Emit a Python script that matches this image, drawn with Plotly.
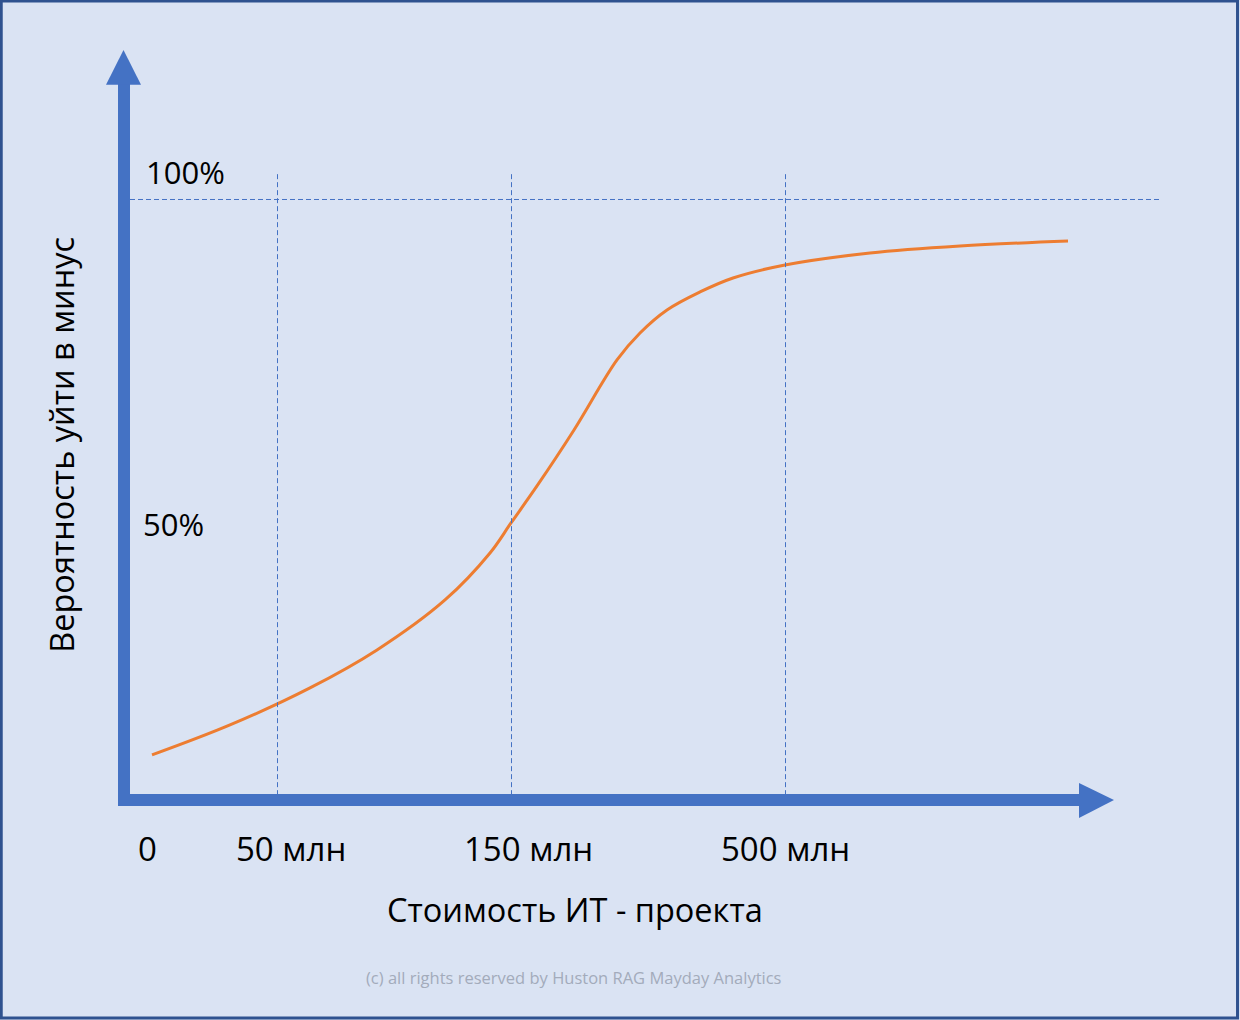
import plotly.graph_objects as go

# ---- data (x: position along the cost axis, y: probability in %) ----
curve_x = [2.8, 10.6, 18.6, 25.3, 32.1, 36.6, 38.7, 41.3, 45.0, 49.3, 51.6,
           54.3, 57.6, 60.9, 66.1, 74.6, 83.6, 94.4]
curve_y = [7.49, 12.48, 18.64, 24.96, 33.28, 41.10, 46.09, 52.25, 61.56, 73.21, 77.70,
           81.53, 84.53, 86.86, 89.02, 91.01, 92.18, 93.01]

grid_x = [15.3, 38.7, 66.1]          # dashed verticals (50, 150, 500 млн)
grid_y = [100]                        # dashed horizontal (100%)

x_tick_labels = ["0", "50 млн", "150 млн", "500 млн"]
x_tick_pos = [2.3, 16.7, 40.4, 66.1]
y_tick_labels = ["100%", "50%"]
y_tick_pos = [104.5, 46.0]
y_tick_x = [6.1, 4.9]

x_title = "Стоимость ИТ - проекта"
y_title = "Вероятность уйти в минус"
copyright_text = "(c) all rights reserved by Huston RAG Mayday Analytics"

BG = "#DAE3F3"
AXIS = "#4472C4"
ORANGE = "#ED7D31"
BORDER = "#2F528F"
FONT = "Open Sans"

# half-pixel offsets so 1px dashed lines render crisp
HX = 0.05
HY = -0.083

fig = go.Figure()
fig.add_trace(go.Scatter(x=curve_x, y=curve_y, mode="lines",
                         line=dict(color=ORANGE, width=3, shape="spline", smoothing=1.0),
                         hoverinfo="skip", showlegend=False))

shapes = []
# dashed grid lines
for gx in grid_x:
    shapes.append(dict(type="line", xref="x", yref="y", x0=gx + HX, x1=gx + HX, y0=0.8, y1=104.5,
                       line=dict(color=AXIS, width=1, dash="5px,3px")))
for gy in grid_y:
    shapes.append(dict(type="line", xref="x", yref="y", x0=0.6, x1=103.6, y0=gy + HY, y1=gy + HY,
                       line=dict(color=AXIS, width=1, dash="5px,3px")))
# thick axis arrows
shapes.append(dict(type="rect", xref="x", yref="y", x0=-0.6, x1=0.6, y0=-1.0, y1=119.2,
                   fillcolor=AXIS, line=dict(width=0)))
shapes.append(dict(type="path", xref="x", yref="y",
                   path="M -1.8 119.0 L 1.7 119.0 L -0.05 124.8 Z",
                   fillcolor=AXIS, line=dict(width=0)))
shapes.append(dict(type="rect", xref="x", yref="y", x0=-0.6, x1=95.7, y0=-1.0, y1=1.0,
                   fillcolor=AXIS, line=dict(width=0)))
shapes.append(dict(type="path", xref="x", yref="y",
                   path="M 95.5 2.83 L 95.5 -3.0 L 99.0 0 Z",
                   fillcolor=AXIS, line=dict(width=0)))
# frame border
shapes.append(dict(type="rect", xref="paper", yref="paper", x0=0.001, x1=0.998, y0=0.002, y1=0.999,
                   line=dict(color=BORDER, width=3), fillcolor="rgba(0,0,0,0)"))

annotations = []
for lbl, px in zip(x_tick_labels, x_tick_pos):
    annotations.append(dict(x=px, y=-8.0, xref="x", yref="y", text=lbl, showarrow=False,
                            font=dict(family=FONT, size=33, color="#000000")))
for lbl, py, pxx in zip(y_tick_labels, y_tick_pos, y_tick_x):
    annotations.append(dict(x=pxx, y=py, xref="x", yref="y", text=lbl, showarrow=False,
                            font=dict(family=FONT, size=31, color="#000000")))
annotations.append(dict(x=45.1, y=-18.3, xref="x", yref="y", text=x_title, showarrow=False,
                        font=dict(family=FONT, size=32.5, color="#000000")))
annotations.append(dict(x=-6.2, y=59.1, xref="x", yref="y", text=y_title, showarrow=False,
                        textangle=-90, font=dict(family=FONT, size=32.5, color="#000000")))
annotations.append(dict(x=45.0, y=-29.6, xref="x", yref="y", text=copyright_text, showarrow=False,
                        font=dict(family=FONT, size=16.5, color="#A3ABBB")))

fig.update_layout(
    width=1240, height=1020,
    margin=dict(l=0, r=0, t=0, b=0),
    paper_bgcolor=BG, plot_bgcolor=BG,
    xaxis=dict(range=[-12.4, 111.6], visible=False, fixedrange=True),
    yaxis=dict(range=[-36.61, 133.11], visible=False, fixedrange=True),
    shapes=shapes, annotations=annotations,
    showlegend=False,
)

fig.write_html("out.html", config={"displayModeBar": False},
               post_script="document.body.style.margin='0';document.body.style.overflow='hidden';")
